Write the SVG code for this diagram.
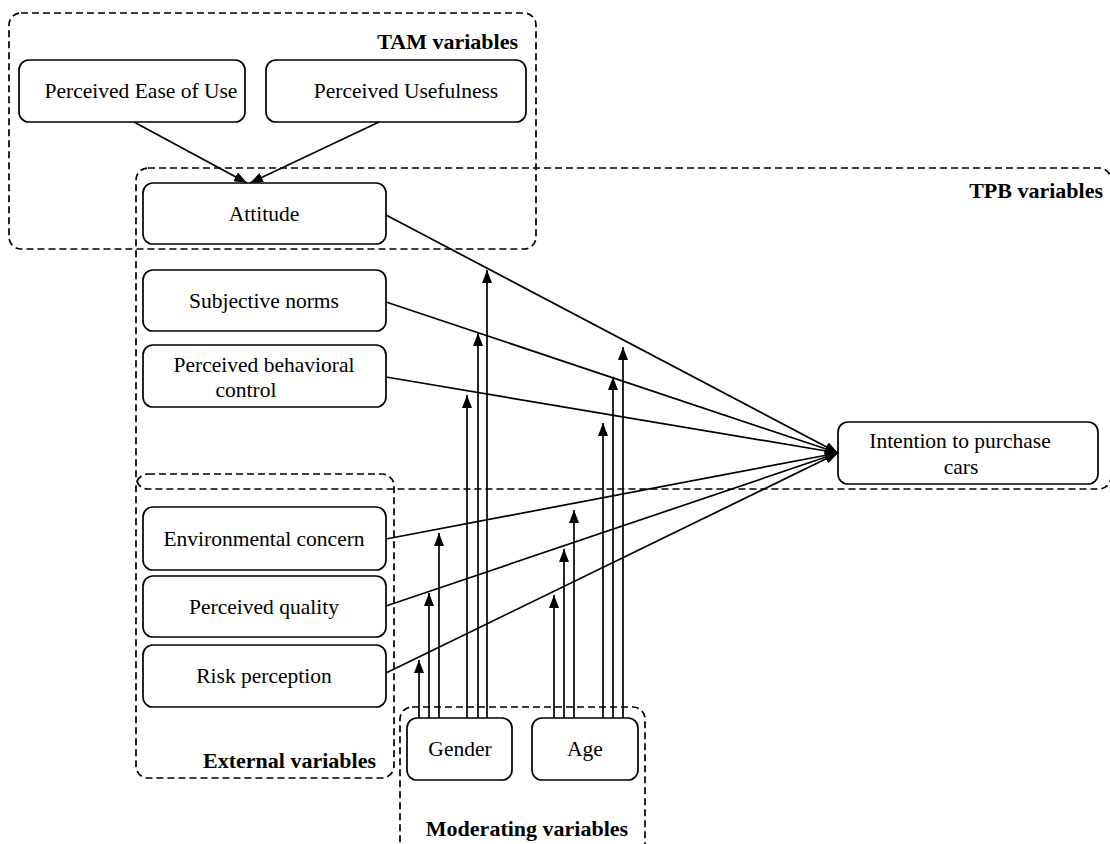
<svg xmlns="http://www.w3.org/2000/svg" width="1110" height="844" viewBox="0 0 1110 844">
<style>
.grp{fill:none;stroke:#000;stroke-width:1.7;stroke-dasharray:7 4}
.box{fill:#fff;stroke:#000;stroke-width:1.7}
.t{font-family:"Liberation Serif","Times New Roman",serif;font-size:21.5px;fill:#000;text-anchor:middle}
.b{font-family:"Liberation Serif","Times New Roman",serif;font-size:22px;font-weight:bold;fill:#000}
.c{fill:none;stroke:#000;stroke-width:1.7}
</style>
<defs>
<marker id="ah" viewBox="0 0 13 10" refX="13" refY="5" markerWidth="13" markerHeight="10" markerUnits="userSpaceOnUse" orient="auto">
<path d="M0,0 L13,5 L0,10 Z" fill="#000"/>
</marker>
</defs>
<g id="groups">
<rect id="tam-group" class="grp" x="9" y="13" width="527" height="236" rx="12"/>
<rect id="tpb-group" class="grp" x="136" y="168" width="975" height="321" rx="12"/>
<rect id="ext-group" class="grp" x="136" y="474" width="258" height="304" rx="12"/>
<rect id="mod-group" class="grp" x="400" y="707" width="245" height="150" rx="12"/>
<text class="b" x="518" y="49" text-anchor="end">TAM variables</text>
<text class="b" x="1103" y="198" text-anchor="end">TPB variables</text>
<text class="b" x="376" y="768" text-anchor="end">External variables</text>
<text class="b" x="527" y="836" text-anchor="middle">Moderating variables</text>
</g>
<g id="peou"><rect class="box" x="19" y="60" width="226" height="62" rx="10"/><text class="t" x="141" y="98">Perceived Ease of Use</text></g>
<g id="pu"><rect class="box" x="266" y="60" width="260" height="62" rx="10"/><text class="t" x="406" y="98">Perceived Usefulness</text></g>
<g id="attitude"><rect class="box" x="143" y="183" width="243" height="61" rx="10"/><text class="t" x="264" y="221">Attitude</text></g>
<g id="sn"><rect class="box" x="143" y="270" width="243" height="61" rx="10"/><text class="t" x="264" y="308">Subjective norms</text></g>
<g id="pbc"><rect class="box" x="143" y="345" width="243" height="62" rx="10"/><text class="t" x="264" y="372">Perceived behavioral</text><text class="t" x="246" y="397">control</text></g>
<g id="intention"><rect class="box" x="838" y="422" width="260" height="62" rx="10"/><text class="t" x="960" y="448">Intention  to purchase</text><text class="t" x="961" y="474">cars</text></g>
<g id="env"><rect class="box" x="143" y="507" width="243" height="63" rx="10"/><text class="t" x="264" y="546">Environmental  concern</text></g>
<g id="pq"><rect class="box" x="143" y="576" width="243" height="61" rx="10"/><text class="t" x="264" y="614">Perceived quality</text></g>
<g id="risk"><rect class="box" x="143" y="645" width="243" height="62" rx="10"/><text class="t" x="264" y="683">Risk perception</text></g>
<g id="gender"><rect class="box" x="407" y="718" width="105" height="62" rx="10"/><text class="t" x="460" y="756">Gender</text></g>
<g id="age"><rect class="box" x="532" y="718" width="106" height="62" rx="10"/><text class="t" x="585" y="756">Age</text></g>
<g id="connectors" class="c">
<line x1="134" y1="122" x2="247" y2="183" marker-end="url(#ah)"/>
<line x1="379" y1="122" x2="250" y2="183" marker-end="url(#ah)"/>
<line x1="386" y1="215" x2="838" y2="453" marker-end="url(#ah)"/>
<line x1="386" y1="302" x2="838" y2="453" marker-end="url(#ah)"/>
<line x1="386" y1="377" x2="838" y2="453" marker-end="url(#ah)"/>
<line x1="386" y1="539" x2="838" y2="453" marker-end="url(#ah)"/>
<line x1="386" y1="606" x2="838" y2="453" marker-end="url(#ah)"/>
<line x1="386" y1="673" x2="838" y2="453" marker-end="url(#ah)"/>
<line x1="419" y1="718" x2="419" y2="660" marker-end="url(#ah)"/>
<line x1="429" y1="718" x2="429" y2="593" marker-end="url(#ah)"/>
<line x1="439" y1="718" x2="439" y2="533" marker-end="url(#ah)"/>
<line x1="467" y1="718" x2="467" y2="395" marker-end="url(#ah)"/>
<line x1="478" y1="718" x2="478" y2="333" marker-end="url(#ah)"/>
<line x1="487" y1="718" x2="487" y2="270" marker-end="url(#ah)"/>
<line x1="554" y1="718" x2="554" y2="595" marker-end="url(#ah)"/>
<line x1="564" y1="718" x2="564" y2="549" marker-end="url(#ah)"/>
<line x1="574" y1="718" x2="574" y2="510" marker-end="url(#ah)"/>
<line x1="603" y1="718" x2="603" y2="423" marker-end="url(#ah)"/>
<line x1="613" y1="718" x2="613" y2="377" marker-end="url(#ah)"/>
<line x1="623" y1="718" x2="623" y2="347" marker-end="url(#ah)"/>
</g>
</svg>
